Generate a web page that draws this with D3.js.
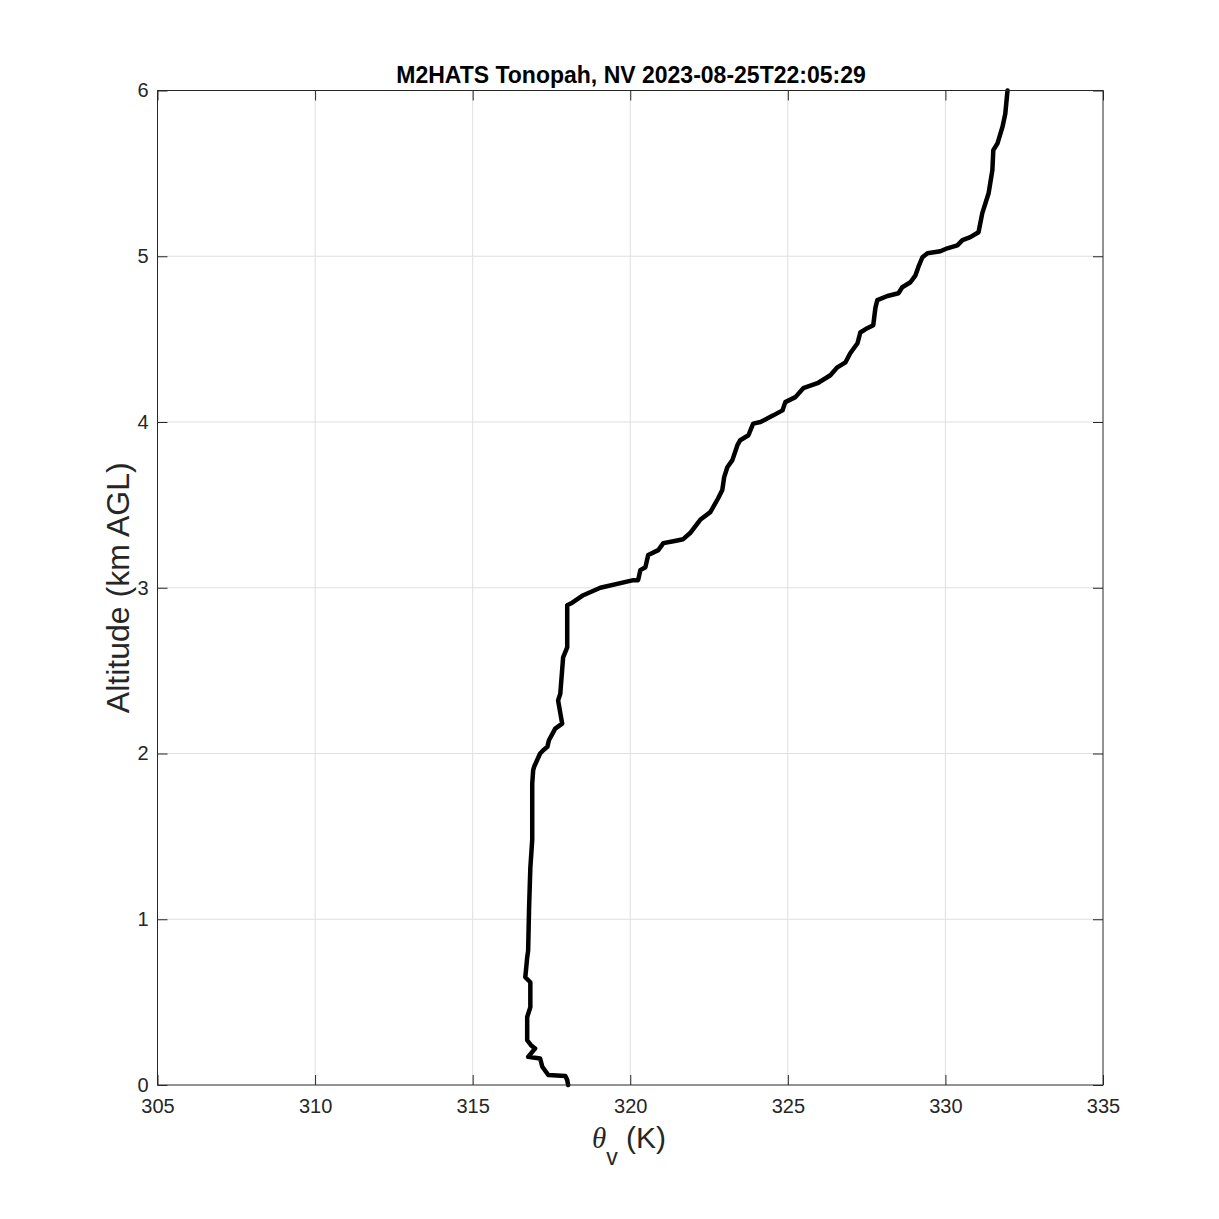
<!DOCTYPE html>
<html><head><meta charset="utf-8">
<script src="https://cdn.jsdelivr.net/npm/d3@7"></script>
<style>body{margin:0;background:#fff}svg{display:block}</style>
</head><body>
<script>
const titleText = "M2HATS Tonopah, NV 2023-08-25T22:05:29";
const xTicks = [305, 310, 315, 320, 325, 330, 335];
const yTicks = [0, 1, 2, 3, 4, 5, 6];
const altitude = [0.00,0.03,0.054,0.06,0.11,0.16,0.17,0.22,0.24,0.27,0.41,0.47,0.62,0.65,0.77,0.81,1.07,1.31,1.48,1.82,1.90,1.92,2.00,2.02,2.04,2.08,2.15,2.18,2.32,2.36,2.58,2.64,2.79,2.895,2.91,2.955,3.00,3.046,3.046,3.106,3.124,3.197,3.227,3.269,3.281,3.293,3.33,3.41,3.456,3.54,3.59,3.667,3.727,3.77,3.86,3.89,3.92,3.99,4.00,4.04,4.07,4.12,4.15,4.204,4.234,4.282,4.33,4.36,4.415,4.475,4.54,4.566,4.584,4.69,4.735,4.76,4.777,4.813,4.843,4.885,4.934,4.994,5.018,5.03,5.048,5.066,5.097,5.115,5.145,5.26,5.32,5.38,5.52,5.64,5.68,5.78,5.86,6.00];
const thetaV = [318.03,318.0,317.94,317.40,317.21,317.14,316.76,316.98,316.85,316.73,316.73,316.83,316.83,316.67,316.73,316.76,316.79,316.83,316.89,316.89,316.92,316.95,317.14,317.24,317.37,317.42,317.62,317.84,317.71,317.78,317.87,318.0,318.0,318.0,318.16,318.51,319.05,320.10,320.25,320.32,320.48,320.57,320.89,321.05,321.37,321.68,321.90,322.22,322.54,322.79,322.92,322.98,323.08,323.24,323.40,323.49,323.75,323.90,324.13,324.54,324.83,324.92,325.24,325.49,325.94,326.35,326.57,326.83,326.98,327.21,327.30,327.52,327.71,327.78,327.84,328.16,328.51,328.63,328.89,329.05,329.14,329.27,329.43,329.84,330.06,330.38,330.54,330.79,331.05,331.17,331.27,331.37,331.49,331.52,331.65,331.81,331.90,331.97];

const W = 1219, H = 1219;
const L = 157.5, R = 1103, T = 90.5, B = 1085;
const svg = d3.select("body").append("svg").attr("width", W).attr("height", H);
const x = d3.scaleLinear().domain([305, 335]).range([L, R]);
const y = d3.scaleLinear().domain([0, 6]).range([B, T]);
const font = "'Liberation Sans', Arial, Helvetica, sans-serif";
const axC = "#262626";

// grid
const g = svg.append("g");
g.selectAll(".gx").data(xTicks.slice(1, -1)).enter().append("line")
  .attr("x1", d => x(d)).attr("x2", d => x(d)).attr("y1", T).attr("y2", B)
  .attr("stroke", "#dfdfdf").attr("stroke-width", 1);
g.selectAll(".gy").data(yTicks.slice(1, -1)).enter().append("line")
  .attr("y1", d => y(d)).attr("y2", d => y(d)).attr("x1", L).attr("x2", R)
  .attr("stroke", "#dfdfdf").attr("stroke-width", 1);

// axes with inward ticks
const tl = 10;
svg.append("g").attr("transform", `translate(0,${B})`)
  .call(d3.axisBottom(x).tickValues(xTicks).tickFormat(d3.format("d")).tickSizeInner(-tl).tickSizeOuter(0).tickPadding(14))
  .call(a => { a.select(".domain").remove(); a.selectAll("line").attr("stroke", axC);
    a.selectAll("text").attr("font-family", font).attr("font-size", 20).attr("fill", axC); });
svg.append("g").attr("transform", `translate(0,${T})`)
  .call(d3.axisTop(x).tickValues(xTicks).tickSizeInner(-tl).tickSizeOuter(0).tickFormat(""))
  .call(a => { a.select(".domain").remove(); a.selectAll("line").attr("stroke", axC); });
svg.append("g").attr("transform", `translate(${L},0)`)
  .call(d3.axisLeft(y).tickValues(yTicks).tickFormat(d3.format("d")).tickSizeInner(-tl).tickSizeOuter(0).tickPadding(9))
  .call(a => { a.select(".domain").remove(); a.selectAll("line").attr("stroke", axC);
    a.selectAll("text").attr("font-family", font).attr("font-size", 20).attr("fill", axC); });
svg.append("g").attr("transform", `translate(${R},0)`)
  .call(d3.axisRight(y).tickValues(yTicks).tickSizeInner(-tl).tickSizeOuter(0).tickFormat(""))
  .call(a => { a.select(".domain").remove(); a.selectAll("line").attr("stroke", axC); });

// data line
const pts = altitude.map((a, i) => [thetaV[i], a]);
svg.append("path").datum(pts)
  .attr("d", d3.line().x(d => x(d[0])).y(d => y(d[1])))
  .attr("fill", "none").attr("stroke", "#000").attr("stroke-width", 4.5)
  .attr("stroke-linejoin", "round").attr("stroke-linecap", "round");

// box
svg.append("rect").attr("x", L).attr("y", T).attr("width", R - L).attr("height", B - T)
  .attr("fill", "none").attr("stroke", axC).attr("stroke-width", 1);

// title
svg.append("text").attr("x", 631).attr("y", 83).attr("text-anchor", "middle")
  .attr("font-family", font).attr("font-size", 23).attr("font-weight", "bold").attr("fill", "#000")
  .text(titleText);

// y label
svg.append("text").attr("transform", `translate(129,${(T + B) / 2}) rotate(-90)`)
  .attr("text-anchor", "middle").attr("font-family", font).attr("font-size", 32).attr("fill", axC)
  .text("Altitude (km AGL)");

// x label
const xl = svg.append("text").attr("x", 592).attr("y", 1148).attr("text-anchor", "start")
  .attr("font-family", font).attr("font-size", 30).attr("fill", axC);
xl.append("tspan").attr("font-family", "'Liberation Serif', 'DejaVu Serif', serif").attr("font-style", "italic").attr("font-size", 29).text("θ");
xl.append("tspan").attr("dy", 17).attr("font-size", 23).text("v");
xl.append("tspan").attr("dy", -17).text(" (K)");
</script>
</body></html>
